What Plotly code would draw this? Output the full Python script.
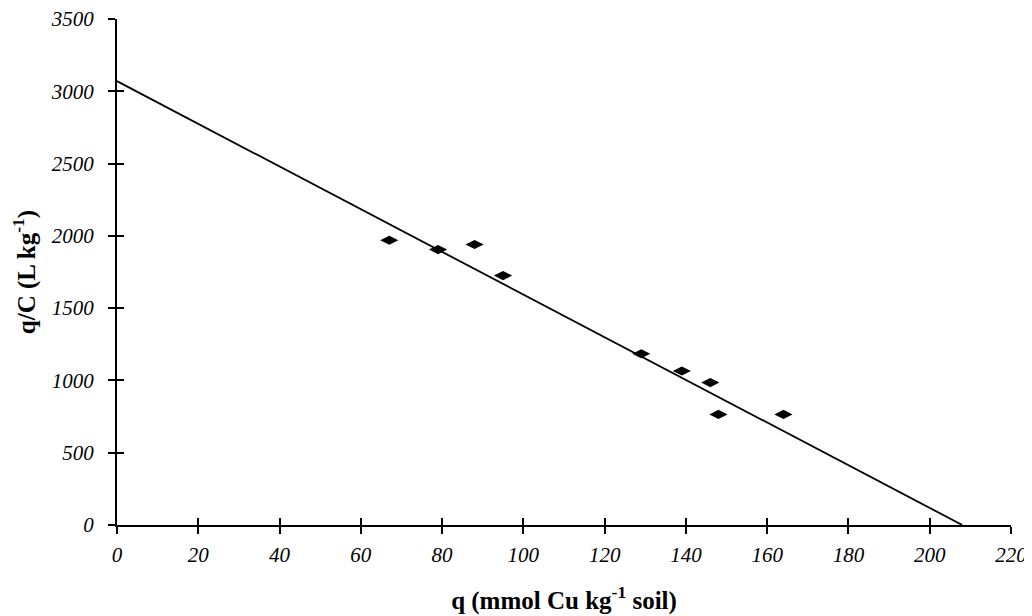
import plotly.graph_objects as go

# Data
q_vals = [67, 79, 88, 95, 129, 139, 146, 148, 164]
qc_vals = [1970, 1905, 1940, 1725, 1185, 1065, 985, 765, 765]

# Fitted line endpoints (intercepts)
fit_x = [0, 208]
fit_y = [3070, 0]

x_ticks = list(range(0, 221, 20))
y_ticks = list(range(0, 3501, 500))

tick_font = dict(family="Liberation Serif", size=21, color="black", style="italic")
title_font = dict(family="Liberation Serif", size=25, color="black", weight="bold")

fig = go.Figure()
fig.add_trace(go.Scatter(x=fit_x, y=fit_y, mode="lines",
                         line=dict(color="black", width=1.8), showlegend=False))
fig.add_trace(go.Scatter(x=q_vals, y=qc_vals, mode="markers",
                         marker=dict(symbol="diamond-wide", size=13, color="black"),
                         showlegend=False))
# invisible trace to activate overlay axes (inner half of crossing ticks)
fig.add_trace(go.Scatter(x=[0], y=[0], xaxis="x2", yaxis="y2", mode="markers",
                         marker=dict(opacity=0), showlegend=False, hoverinfo="skip"))

fig.update_layout(
    width=1032, height=616,
    margin=dict(l=109, r=29, t=11, b=99),
    paper_bgcolor="white", plot_bgcolor="white",
    xaxis=dict(range=[0, 220], tickvals=x_ticks, showgrid=False, zeroline=False,
               showline=True, linecolor="black", linewidth=2,
               ticks="outside", ticklen=7, tickwidth=2, tickcolor="black",
               tickfont=tick_font, ticklabelstandoff=3, automargin=False,
               ticklabeloverflow="allow",
               title=dict(text="q (mmol Cu kg<sup>-1</sup> soil)", font=title_font, standoff=25)),
    yaxis=dict(range=[0, 3500], tickvals=y_ticks, showgrid=False, zeroline=False,
               showline=True, linecolor="black", linewidth=2,
               ticks="outside", ticklen=7, tickwidth=2, tickcolor="black",
               tickfont=tick_font, ticklabelstandoff=10, automargin=False,
               ticklabeloverflow="allow",
               title=dict(text="q/C (L kg<sup>-1</sup>)", font=title_font, standoff=28)),
    xaxis2=dict(range=[0, 220], tickvals=x_ticks, overlaying="x", side="bottom",
                showgrid=False, zeroline=False, showline=False, showticklabels=False,
                ticks="inside", ticklen=7, tickwidth=2, tickcolor="black", automargin=False),
    yaxis2=dict(range=[0, 3500], tickvals=y_ticks, overlaying="y", side="left",
                showgrid=False, zeroline=False, showline=False, showticklabels=False,
                ticks="inside", ticklen=7, tickwidth=2, tickcolor="black", automargin=False),
)

fig.write_html("out.html")
